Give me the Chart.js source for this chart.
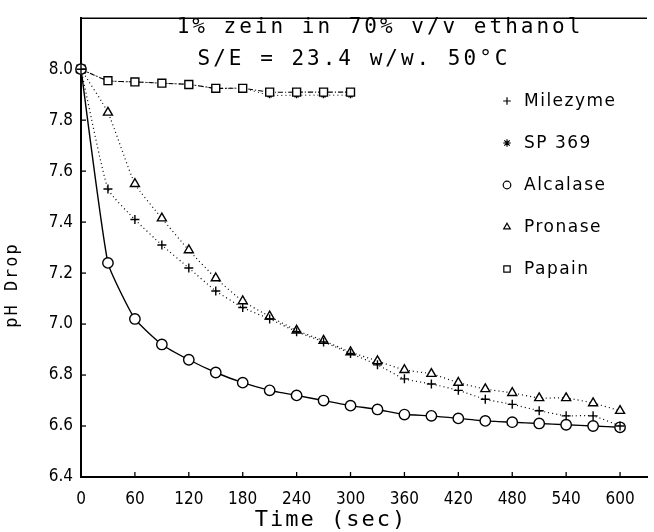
<!DOCTYPE html>
<html><head><meta charset="utf-8">
<script src="https://cdn.jsdelivr.net/npm/chart.js@4/dist/chart.umd.min.js"></script>
<style>html,body{margin:0;padding:0;background:#fff}#wrap{width:654px;height:532px;position:relative}canvas{display:block}</style>
</head><body><div id="wrap"><canvas id="c" width="654" height="532" style="width:654px;height:532px"></canvas></div>
<script>
// ---- data ----
const times = [0,30,60,90,120,150,180,210,240,270,300,330,360,390,420,450,480,510,540,570,600];
const milezyme = [8.00,7.53,7.41,7.31,7.22,7.13,7.065,7.02,6.97,6.93,6.885,6.84,6.785,6.765,6.74,6.705,6.685,6.66,6.64,6.64,6.60];
const sp369 = [8.00,7.955,7.95,7.945,7.94,7.925,7.925,7.898,7.898,7.898,7.898];
const alcalase = [8.00,7.24,7.02,6.92,6.86,6.81,6.77,6.74,6.72,6.70,6.68,6.665,6.645,6.64,6.63,6.62,6.615,6.61,6.605,6.60,6.595];
const pronase = [8.00,7.83,7.55,7.415,7.29,7.18,7.09,7.03,6.975,6.935,6.89,6.855,6.82,6.805,6.77,6.745,6.73,6.71,6.71,6.69,6.66];
const papain = [8.00,7.955,7.95,7.945,7.94,7.925,7.925,7.91,7.91,7.91,7.91];
const xTickValues = [0,60,120,180,240,300,360,420,480,540,600];
const yTickValues = [6.4,6.6,6.8,7.0,7.2,7.4,7.6,7.8,8.0];
const seriesNames = ['Milezyme','SP 369','Alcalase','Pronase','Papain'];
const titleLines = ['1% zein in 70% v/v ethanol','S/E = 23.4 w/w. 50°C'];
const xTitle = 'Time (sec)';
const yTitle = 'pH Drop';

const toPts = vals => vals.map((v,i)=>({x:times[i], y:v}));
const tickFont = {family:'"Liberation Sans Narrow","DejaVu Sans Condensed",sans-serif', size:17};

const styles = {
  'Milezyme': {pointStyle:'cross', pointRadius:4.5, borderDash:[1,3], borderWidth:1.2, order:0},
  'SP 369':   {pointStyle:'star', pointRadius:3, borderDash:[1,3], borderWidth:1, order:2},
  'Alcalase': {pointStyle:'circle', pointRadius:5.2, borderDash:[], borderWidth:1.4, order:0},
  'Pronase':  {pointStyle:'triangle', pointRadius:5.2, borderDash:[1,3], borderWidth:1.2, order:0},
  'Papain':   {pointStyle:'rect', pointRadius:5.6, borderDash:[5,2,1,2], borderWidth:1.1, order:1}
};
const seriesData = [milezyme, sp369, alcalase, pronase, papain];

const datasets = seriesNames.map((n,i)=>({
  label:n, data:toPts(seriesData[i]), order:styles[n].order,
  borderColor:'#000', backgroundColor:'#fff',
  pointBackgroundColor:'#fff', pointBorderColor:'#000', pointBorderWidth:1.4,
  pointStyle:styles[n].pointStyle, pointRadius:styles[n].pointRadius,
  borderDash:styles[n].borderDash, borderWidth:styles[n].borderWidth,
  tension:0.15, clip:false, fill:false
}));

const decor = {
  id:'decor',
  afterDraw(chart){
    const ctx = chart.ctx, a = chart.chartArea;
    const xs = chart.scales.x, ys = chart.scales.y;
    ctx.save();
    ctx.strokeStyle='#000'; ctx.fillStyle='#000';
    // top frame line
    ctx.lineWidth=1.6; ctx.beginPath(); ctx.moveTo(a.left, a.top); ctx.lineTo(a.right, a.top); ctx.stroke();
    // inward ticks
    ctx.lineWidth=1.3;
    xTickValues.forEach(v=>{ if(v===0) return; const p=xs.getPixelForValue(v); ctx.beginPath(); ctx.moveTo(p,a.bottom); ctx.lineTo(p,a.bottom-5); ctx.stroke(); });
    yTickValues.forEach(v=>{ const p=ys.getPixelForValue(v); ctx.beginPath(); ctx.moveTo(a.left,p); ctx.lineTo(a.left+5,p); ctx.stroke(); });
    // title
    ctx.textAlign='center'; ctx.textBaseline='middle';
    ctx.font='21px "DejaVu Sans Mono", monospace';
    ctx.letterSpacing='3px';
    ctx.fillText(titleLines[0], 380, 28);
    ctx.fillText(titleLines[1], 354, 60);
    // axis titles
    ctx.font='22px "DejaVu Sans Mono", monospace';
    ctx.letterSpacing='2px';
    ctx.fillText(xTitle, 331, 520);
    ctx.save();
    ctx.translate(13, 285); ctx.rotate(-Math.PI/2);
    ctx.font='17px "DejaVu Sans Mono", monospace';
    ctx.letterSpacing='2px';
    ctx.fillText(yTitle, 0, 0);
    ctx.restore();
    // legend
    const rows=[101,143,185,227,269];
    ctx.textAlign='left';
    ctx.font='17px "DejaVu Sans", sans-serif';
    ctx.letterSpacing='1.5px';
    seriesNames.forEach((n,i)=>{
      const st = styles[n];
      ctx.fillStyle='#fff'; ctx.strokeStyle='#000'; ctx.lineWidth=1.2; ctx.setLineDash([]);
      Chart.helpers.drawPoint(ctx, {pointStyle:st.pointStyle, radius: st.pointStyle==='rect'?4.5:3.8, borderWidth:1.2, rotation:0}, 507, rows[i]);
      ctx.fillStyle='#000';
      ctx.fillText(n, 524, rows[i]+1);
    });
    ctx.restore();
  }
};

new Chart(document.getElementById('c'), {
  type:'line',
  data:{datasets},
  options:{
    responsive:false, animation:false, devicePixelRatio:1,
    layout:{padding:{top:10,right:0,bottom:0,left:0}},
    plugins:{legend:{display:false}, title:{display:false}, tooltip:{enabled:false}},
    scales:{
      x:{type:'linear', min:0, max:630,
        afterBuildTicks:s=>{s.ticks=xTickValues.map(v=>({value:v}));},
        afterFit:s=>{s.height=55;},
        grid:{display:false, drawTicks:false, tickLength:0},
        border:{display:true, color:'#000', width:2},
        ticks:{color:'#000', font:tickFont, padding:12, maxRotation:0, autoSkip:false, callback:v=>String(v)}
      },
      y:{type:'linear', min:6.4, max:8.2,
        afterBuildTicks:s=>{s.ticks=yTickValues.map(v=>({value:v}));},
        afterFit:s=>{s.width=81;},
        grid:{display:false, drawTicks:false, tickLength:0},
        border:{display:true, color:'#000', width:2},
        ticks:{color:'#000', font:tickFont, padding:8, autoSkip:false, callback:v=>Number(v).toFixed(1)}
      }
    }
  },
  plugins:[decor]
});
</script>
</body></html>
